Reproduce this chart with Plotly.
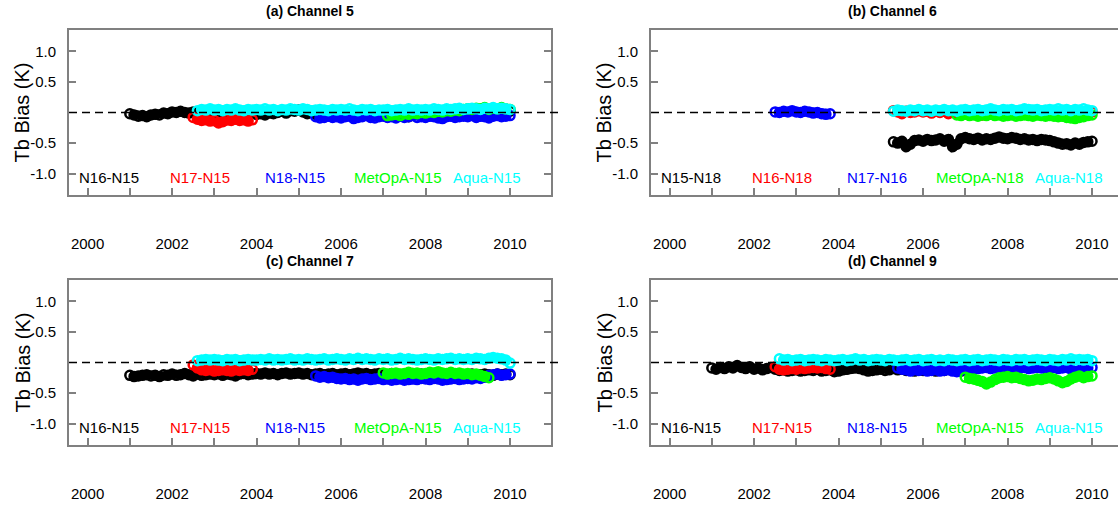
import plotly.graph_objects as go

# ---------------- data ----------------
STEP = 0.1  # sampling interval of the series (years)

X_TICKS = list(range(2000, 2011))
X_TICK_LABELS = ['2000', '', '2002', '', '2004', '', '2006', '', '2008', '', '2010']
Y_TICKS = [-1.0, -0.5, 0.5, 1.0]
Y_TICK_LABELS = ['-1.0', '-0.5', '0.5', '1.0']

PANEL_TITLES = ['(a) Channel 5', '(b) Channel 6', '(c) Channel 7', '(d) Channel 9']
LABELS_N15 = ['N16-N15', 'N17-N15', 'N18-N15', 'MetOpA-N15', 'Aqua-N15']
LABELS_N18 = ['N15-N18', 'N16-N18', 'N17-N16', 'MetOpA-N18', 'Aqua-N18']
LABEL_X = [2000.5, 2002.65, 2004.9, 2007.35, 2009.45]
LABEL_Y = -1.06
COLORS = ['#000000', '#ff0000', '#0000ff', '#00ff00', '#00ffff']

# ---- panel (a) Channel 5 ----
A_BLACK_START = 2001.0
A_BLACK = [-0.02, -0.04, -0.06, -0.05, -0.07, -0.04, -0.03, -0.04, -0.01, -0.02,
           0.01, 0.00, 0.02, 0.00, -0.01, 0.01, 0.00, -0.02, -0.01, 0.00,
           -0.01, -0.03, 0.00, -0.02, -0.01, 0.01, -0.02, -0.03, 0.00, -0.01,
           -0.03, -0.02, -0.04, -0.01, -0.02, 0.00, 0.02, -0.01, 0.03, 0.02,
           0.04, 0.01, -0.02, 0.00, -0.03, -0.02, 0.00, -0.04, -0.02, -0.01,
           -0.03, 0.00, -0.02, -0.01, 0.01, -0.02, -0.04, -0.01, 0.00, -0.02,
           -0.03, -0.05, -0.04, -0.02, -0.06, -0.03, -0.07, -0.04, -0.02, -0.03,
           -0.01, -0.03, -0.02, 0.00, -0.01, -0.03, -0.02, 0.01, 0.00, -0.02,
           0.01, 0.02, 0.00, 0.03, 0.02, 0.01, 0.03, 0.02, 0.00, 0.01,
           0.02]
A_RED_START = 2002.5
A_RED = [-0.08, -0.11, -0.13, -0.12, -0.14, -0.13, -0.17, -0.15, -0.12, -0.13,
         -0.11, -0.13, -0.12, -0.14, -0.12]
A_BLUE_START = 2005.4
A_BLUE = [-0.07, -0.09, -0.08, -0.06, -0.08, -0.07,
          -0.09, -0.07, -0.06, -0.10, -0.08, -0.07, -0.05, -0.08, -0.09, -0.07,
          -0.06, -0.08, -0.07, -0.09, -0.06, -0.08, -0.07, -0.05, -0.08, -0.07,
          -0.08, -0.06, -0.07, -0.09, -0.10, -0.07, -0.06, -0.08, -0.07, -0.06,
          -0.07, -0.05, -0.08, -0.06, -0.07, -0.09, -0.06, -0.05, -0.07, -0.06,
          -0.05]
A_GREEN_START = 2007.1
A_GREEN = [-0.05, -0.04, -0.03, -0.05, -0.02, -0.03, -0.01, -0.02, 0.00,
           -0.01, 0.01, 0.00, 0.02, 0.01, 0.03, 0.02, 0.04, 0.03, 0.05,
           0.06, 0.05, 0.07, 0.06, 0.08, 0.05, 0.07, 0.06, 0.08, 0.06,
           0.05]
A_CYAN_START = 2002.6
A_CYAN = [0.03, 0.05, 0.04, 0.06,
          0.04, 0.05, 0.03, 0.05, 0.04, 0.06, 0.04, 0.03, 0.05, 0.04,
          0.05, 0.04, 0.06, 0.04, 0.05, 0.03, 0.05, 0.04, 0.06, 0.05,
          0.04, 0.06, 0.05, 0.03, 0.04, 0.05, 0.04, 0.03, 0.05, 0.04,
          0.05, 0.04, 0.06, 0.04, 0.03, 0.05, 0.04, 0.05, 0.03, 0.04,
          0.04, 0.05, 0.03, 0.04, 0.05, 0.04, 0.06, 0.04, 0.05, 0.04,
          0.05, 0.04, 0.06, 0.05, 0.04, 0.06, 0.05, 0.06, 0.07, 0.05,
          0.06, 0.07, 0.06, 0.05, 0.07, 0.06, 0.08, 0.06, 0.07, 0.06,
          0.05]

# ---- panel (b) Channel 6 ----
B_BLACK_START = 2005.3
B_BLACK = [-0.48, -0.50, -0.47, -0.56, -0.52, -0.46, -0.45,
           -0.47, -0.44, -0.46, -0.45, -0.43, -0.47, -0.44, -0.56, -0.52, -0.43,
           -0.41, -0.43, -0.44, -0.42, -0.45, -0.43, -0.44, -0.42, -0.40, -0.42,
           -0.43, -0.41, -0.42, -0.44, -0.43, -0.45, -0.44, -0.46, -0.44, -0.45,
           -0.46, -0.48, -0.50, -0.52, -0.51, -0.53, -0.50, -0.52, -0.49, -0.48,
           -0.47]
B_RED_START = 2005.3
B_RED = [0.03, 0.01, -0.02, 0.02, 0.00, 0.01, 0.03,
         0.01, 0.02, -0.01, 0.03, 0.00, 0.02, -0.02, 0.01, -0.03, 0.00,
         0.01, -0.01, 0.00, 0.02, -0.04, 0.01, -0.02, 0.00, 0.01, -0.01,
         0.00, 0.01, -0.01, 0.02, 0.00, -0.02, 0.01, 0.00, -0.01, 0.01,
         0.00, -0.01, 0.01, 0.00, -0.02, 0.01, 0.00, -0.01, 0.01, 0.00,
         0.01]
B_BLUE_START = 2002.5
B_BLUE = [0.01, 0.00, 0.02, 0.01, 0.03, 0.01, 0.00, 0.02, 0.01, -0.01,
          0.00, -0.02, -0.03, -0.02]
B_GREEN_START = 2006.8
B_GREEN = [-0.04, -0.05,
           -0.03, -0.05, -0.04, -0.06, -0.04, -0.05, -0.03, -0.05, -0.04, -0.06,
           -0.05, -0.04, -0.06, -0.05, -0.04, -0.05, -0.06, -0.04, -0.05, -0.06,
           -0.05, -0.06, -0.07, -0.06, -0.08, -0.09, -0.10, -0.08, -0.07, -0.05,
           -0.04]
B_CYAN_START = 2005.3
B_CYAN = [0.02, 0.04, 0.03, 0.02, 0.04, 0.03, 0.05,
          0.03, 0.04, 0.02, 0.04, 0.03, 0.05, 0.03, 0.04, 0.02, 0.04,
          0.05, 0.03, 0.04, 0.05, 0.03, 0.04, 0.06, 0.04, 0.03, 0.05,
          0.04, 0.05, 0.03, 0.04, 0.06, 0.05, 0.04, 0.05, 0.03, 0.04,
          0.05, 0.04, 0.06, 0.04, 0.05, 0.03, 0.05, 0.04, 0.06, 0.04,
          0.03]

# ---- panel (c) Channel 7 ----
C_BLACK_START = 2001.0
C_BLACK = [-0.21, -0.23, -0.22, -0.21, -0.20, -0.22, -0.21, -0.23, -0.20, -0.21,
           -0.19, -0.21, -0.20, -0.18, -0.20, -0.22, -0.19, -0.21, -0.20, -0.19,
           -0.20, -0.18, -0.21, -0.19, -0.20, -0.22, -0.19, -0.18, -0.20, -0.19,
           -0.18, -0.19, -0.17, -0.19, -0.18, -0.20, -0.18, -0.17, -0.19, -0.18,
           -0.17, -0.19, -0.18, -0.20, -0.19, -0.18, -0.20, -0.19, -0.18, -0.20,
           -0.19, -0.18, -0.20, -0.19, -0.17, -0.19, -0.18, -0.20, -0.19, -0.18,
           -0.19, -0.20, -0.18, -0.19, -0.21, -0.20, -0.19, -0.18, -0.20, -0.19,
           -0.20, -0.19, -0.21, -0.20, -0.19, -0.21, -0.20, -0.19, -0.20, -0.21,
           -0.20, -0.19, -0.21, -0.20, -0.19, -0.20, -0.21, -0.19, -0.20, -0.19,
           -0.20]
C_RED_START = 2002.5
C_RED = [-0.04, -0.09, -0.12, -0.13, -0.12, -0.14, -0.13, -0.12, -0.13, -0.14,
         -0.12, -0.13, -0.12, -0.13, -0.11]
C_BLUE_START = 2005.4
C_BLUE = [-0.22, -0.24, -0.23, -0.25, -0.24, -0.26,
          -0.27, -0.26, -0.28, -0.27, -0.29, -0.27, -0.26, -0.28, -0.27, -0.26,
          -0.28, -0.27, -0.29, -0.28, -0.27, -0.29, -0.28, -0.27, -0.28, -0.26,
          -0.27, -0.28, -0.26, -0.27, -0.29, -0.28, -0.27, -0.26, -0.28, -0.27,
          -0.26, -0.27, -0.25, -0.26, -0.24, -0.21, -0.20, -0.19, -0.21, -0.20,
          -0.19]
C_GREEN_START = 2007.0
C_GREEN = [-0.17, -0.19, -0.18, -0.17, -0.19, -0.18, -0.16, -0.18, -0.17, -0.19,
           -0.18, -0.16, -0.17, -0.15, -0.17, -0.18, -0.16, -0.18, -0.17, -0.19,
           -0.18, -0.20, -0.19, -0.21, -0.23, -0.25]
C_CYAN_START = 2002.6
C_CYAN = [0.03, 0.04, 0.05, 0.04,
          0.05, 0.04, 0.03, 0.05, 0.04, 0.05, 0.03, 0.04, 0.05, 0.04,
          0.04, 0.05, 0.04, 0.06, 0.04, 0.05, 0.04, 0.05, 0.06, 0.04,
          0.05, 0.04, 0.06, 0.05, 0.04, 0.05, 0.06, 0.04, 0.05, 0.06,
          0.05, 0.04, 0.06, 0.05, 0.07, 0.05, 0.06, 0.05, 0.04, 0.06,
          0.05, 0.06, 0.04, 0.05, 0.07, 0.05, 0.06, 0.05, 0.04, 0.05,
          0.06, 0.05, 0.04, 0.06, 0.05, 0.06, 0.07, 0.05, 0.06, 0.05,
          0.06, 0.05, 0.07, 0.06, 0.05, 0.07, 0.08, 0.07, 0.06, 0.04,
          -0.01]

# ---- panel (d) Channel 9 ----
D_BLACK_START = 2001.0
D_BLACK = [-0.09, -0.11, -0.08, -0.10, -0.07, -0.09, -0.05, -0.08, -0.10, -0.07,
           -0.11, -0.09, -0.12, -0.10, -0.08, -0.11, -0.13, -0.12, -0.14, -0.13,
           -0.12, -0.14, -0.13, -0.12, -0.13, -0.11, -0.14, -0.13, -0.12, -0.15,
           -0.14, -0.12, -0.11, -0.09, -0.08, -0.10, -0.12, -0.14, -0.13, -0.12,
           -0.11, -0.13, -0.12, -0.10, -0.12, -0.11, -0.13, -0.12, -0.14, -0.12,
           -0.13, -0.11, -0.12, -0.14, -0.12, -0.13, -0.11, -0.12, -0.13, -0.14]
D_RED_START = 2002.5
D_RED = [-0.07, -0.11, -0.12, -0.11, -0.10, -0.11, -0.09, -0.10, -0.09, -0.08,
         -0.09, -0.08, -0.10, -0.11]
D_BLUE_START = 2005.4
D_BLUE = [-0.09, -0.11, -0.12, -0.14, -0.12, -0.13,
          -0.12, -0.14, -0.13, -0.12, -0.14, -0.13, -0.12, -0.14, -0.15, -0.13,
          -0.10, -0.09, -0.11, -0.10, -0.09, -0.08, -0.10, -0.09, -0.08, -0.10,
          -0.09, -0.08, -0.10, -0.09, -0.08, -0.10, -0.09, -0.08, -0.09, -0.10,
          -0.09, -0.08, -0.10, -0.09, -0.08, -0.11, -0.15, -0.13, -0.10, -0.09,
          -0.08]
D_GREEN_START = 2007.0
D_GREEN = [-0.24, -0.26, -0.27, -0.29, -0.31, -0.35, -0.32, -0.28, -0.25, -0.24,
           -0.23, -0.25, -0.24, -0.26, -0.28, -0.30, -0.29, -0.27, -0.28, -0.26,
           -0.25, -0.27, -0.30, -0.33, -0.31, -0.27, -0.24, -0.22, -0.25, -0.23,
           -0.22]
D_CYAN_START = 2002.6
D_CYAN = [0.06, 0.04, 0.05, 0.03,
          0.04, 0.05, 0.03, 0.04, 0.05, 0.04, 0.03, 0.05, 0.04, 0.03,
          0.04, 0.05, 0.03, 0.04, 0.06, 0.04, 0.05, 0.03, 0.04, 0.05,
          0.04, 0.03, 0.05, 0.04, 0.03, 0.04, 0.05, 0.03, 0.04, 0.05,
          0.03, 0.04, 0.05, 0.03, 0.04, 0.03, 0.05, 0.04, 0.03, 0.04,
          0.05, 0.03, 0.04, 0.05, 0.03, 0.04, 0.05, 0.04, 0.03, 0.05,
          0.04, 0.03, 0.05, 0.04, 0.05, 0.03, 0.04, 0.05, 0.04, 0.03,
          0.05, 0.04, 0.03, 0.05, 0.04, 0.06, 0.04, 0.05, 0.04, 0.05,
          0.03]

PANELS = [
    [(A_BLACK_START, A_BLACK), (A_RED_START, A_RED), (A_BLUE_START, A_BLUE),
     (A_GREEN_START, A_GREEN), (A_CYAN_START, A_CYAN)],
    [(B_BLACK_START, B_BLACK), (B_RED_START, B_RED), (B_BLUE_START, B_BLUE),
     (B_GREEN_START, B_GREEN), (B_CYAN_START, B_CYAN)],
    [(C_BLACK_START, C_BLACK), (C_RED_START, C_RED), (C_BLUE_START, C_BLUE),
     (C_GREEN_START, C_GREEN), (C_CYAN_START, C_CYAN)],
    [(D_BLACK_START, D_BLACK), (D_RED_START, D_RED), (D_BLUE_START, D_BLUE),
     (D_GREEN_START, D_GREEN), (D_CYAN_START, D_CYAN)],
]
PANEL_LABELS = [LABELS_N15, LABELS_N18, LABELS_N15, LABELS_N15]

# ---------------- layout geometry (pixels) ----------------
W, H = 1118, 506
COL_LEFT = [69, 651]
BOX_W = 482
ROW_TOP = [30, 280]
BOX_H = 165
X_RANGE_LEFT = 1999.56
PX_PER_YEAR = BOX_W / (2010.97 - 1999.56)
Y_RANGE = [-1.35, 1.35]

FONT = 'Liberation Sans, Arial, sans-serif'
AXIS_GREY = '#808080'

fig = go.Figure()

annotations = []
shapes = []
for p in range(4):
    row, col = divmod(p, 2)
    sfx = '' if p == 0 else str(p + 1)
    xa, ya = 'x' + sfx, 'y' + sfx
    left = COL_LEFT[col]
    right = min(left + BOX_W, W)
    top = ROW_TOP[row]
    bottom = top + BOX_H
    xdom = [left / W, right / W]
    ydom = [1 - bottom / H, 1 - top / H]
    xmax = X_RANGE_LEFT + (right - left) / PX_PER_YEAR
    clipped = (left + BOX_W) > W

    fig.layout['xaxis' + sfx] = dict(
        domain=xdom, range=[X_RANGE_LEFT, xmax], anchor=ya,
        tickmode='array', tickvals=X_TICKS, ticktext=X_TICK_LABELS,
        ticks='inside', ticklen=7, tickwidth=1.5, tickcolor=AXIS_GREY,
        showline=True, linecolor=AXIS_GREY, linewidth=2, mirror=True,
        showgrid=False, zeroline=False, ticklabelstandoff=34,
        tickfont=dict(family=FONT, size=15, color='#000000'),
    )
    fig.layout['yaxis' + sfx] = dict(
        domain=ydom, range=Y_RANGE, anchor=xa,
        tickmode='array', tickvals=Y_TICKS, ticktext=Y_TICK_LABELS,
        ticks='inside', ticklen=7, tickwidth=1.5, tickcolor=AXIS_GREY,
        showline=True, linecolor=AXIS_GREY, linewidth=2,
        mirror=False if clipped else 'ticks',
        showgrid=False, zeroline=False, ticklabelstandoff=8,
        tickfont=dict(family=FONT, size=15, color='#000000'),
    )

    # zero dashed reference line
    shapes.append(dict(type='line', xref='paper', yref=ya,
                       x0=left / W, x1=min(left + BOX_W + 10, W) / W, y0=0, y1=0,
                       line=dict(color='#000000', width=1.5, dash='8px,5px'),
                       layer='above'))

    for (start, vals), color in zip(PANELS[p], COLORS):
        xs = [start + STEP * i for i in range(len(vals))]
        fig.add_trace(go.Scatter(
            x=xs, y=vals, xaxis=xa, yaxis=ya, mode='lines+markers',
            line=dict(color=color, width=9),
            marker=dict(symbol='circle-open', size=9, color=color,
                        line=dict(width=2.5, color=color)),
            showlegend=False, hoverinfo='skip', cliponaxis=True))

    for txt, lx, color in zip(PANEL_LABELS[p], LABEL_X, COLORS):
        annotations.append(dict(xref=xa, yref=ya, x=lx, y=LABEL_Y, text=txt,
                                showarrow=False, xanchor='center', yanchor='middle',
                                font=dict(family=FONT, size=15, color=color)))

    # panel title
    annotations.append(dict(xref='paper', yref='paper',
                            x=(left + BOX_W / 2) / W, y=1 - (top - 19) / H,
                            text='<b>%s</b>' % PANEL_TITLES[p], showarrow=False,
                            xanchor='center', yanchor='middle',
                            font=dict(family=FONT, size=14, color='#000000')))
    # y-axis title
    annotations.append(dict(xref='paper', yref='paper',
                            x=(left - 47) / W, y=1 - (top + BOX_H / 2) / H,
                            text='Tb Bias (K)', textangle=-90, showarrow=False,
                            xanchor='center', yanchor='middle',
                            font=dict(family=FONT, size=20, color='#000000')))

fig.update_layout(width=W, height=H, margin=dict(l=0, r=0, t=0, b=0),
                  paper_bgcolor='white', plot_bgcolor='white',
                  annotations=annotations, shapes=shapes, showlegend=False)

fig.write_html('out.html')
